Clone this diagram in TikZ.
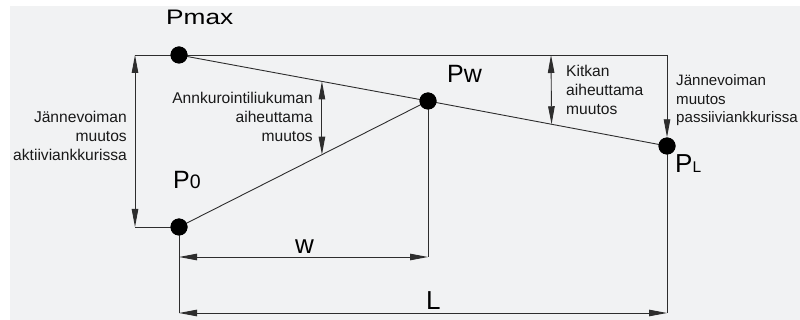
\documentclass[tikz,border=0pt]{standalone}
\usepackage{fontspec}
\setmainfont{Liberation Sans}
\usetikzlibrary{arrows.meta,calc}
\definecolor{bg}{RGB}{241,242,243}
\definecolor{ln}{RGB}{45,45,45}
\definecolor{tx}{RGB}{25,25,25}
\tikzset{
  dot/.style={circle,fill=black,inner sep=0pt,minimum size=17pt},
  thin line/.style={draw=ln,line width=0.9pt},
  dimarrow/.style={draw=ln,line width=0.9pt,{Triangle[length=18pt,width=6.5pt]}-{Triangle[length=18pt,width=6.5pt]}},
  onearrow/.style={draw=ln,line width=0.9pt,-{Triangle[length=18pt,width=6.5pt]}},
  body/.style={text=tx,inner sep=0pt,font=\fontsize{15.6}{19}\selectfont},
  biglabel/.style={text=black,inner sep=0pt,anchor=base west}
}
\begin{document}
\begin{tikzpicture}[x=1pt,y=-1pt]
\useasboundingbox (0,0) rectangle (800,320);
\fill[white] (0,0) rectangle (800,320);
\fill[bg] (10,6) rectangle (800,320);

% points
\node[dot] (pmax) at (179,55) {};
\node[dot] (p0) at (179,227) {};
\node[dot] (pw) at (428,101) {};
\node[dot] (pl) at (667,146) {};

% helper coordinates
\coordinate (tl) at (135,55);
\coordinate (tr) at (667,55);
\coordinate (bl) at (135,227);
\coordinate (k1) at (551,55);
\coordinate (wl) at (179,257);
\coordinate (wr) at (428,257);
\coordinate (ll) at (179,313);
\coordinate (lr) at (667,313);
\coordinate (a1) at ($(pmax.center)!0.574!(pw.center)$);
\coordinate (a2) at ($(p0.center)!0.574!(pw.center)$);
\coordinate (k2) at ($(pw.center)!0.517!(pl.center)$);

% lines
\draw[thin line] (tl) -- (tr);
\draw[thin line] (bl) -- (p0.center);
\draw[thin line] (pmax.center) -- (pw.center) -- (pl.center);
\draw[thin line] (p0.center) -- (pw.center);
\draw[thin line] (p0.center) -- (ll);
\draw[thin line] (pw.center) -- (wr);
\draw[thin line] (pl.center) -- (lr);

% dimension arrows
\draw[dimarrow] (tl) -- (bl);
\draw[dimarrow] (a1) -- (a2);
\draw[dimarrow] (k1) -- (k2);
\draw[onearrow] (tr) -- (pl.north);
\draw[dimarrow] (wl) -- (wr);
\draw[dimarrow] (ll) -- (lr);

% redraw dots on top
\node[dot] at (pmax) {};
\node[dot] at (p0) {};
\node[dot] at (pw) {};
\node[dot] at (pl) {};

% point labels
\node[biglabel,font=\fontsize{21}{21}\selectfont] (lpmax) at (166,25) {\scalebox{1.25}[1]{Pmax}};
\node[biglabel,font=\fontsize{25}{25}\selectfont] (lpw) at (447,83) {Pw};
\node[biglabel,font=\fontsize{25}{25}\selectfont] (lp0) at (173,189) {P{\fontsize{19.5}{19.5}\selectfont 0}};
\node[biglabel,font=\fontsize{26}{26}\selectfont] (lpl) at (675,173) {P{\fontsize{15.5}{15.5}\selectfont L}};
\node[biglabel,font=\fontsize{26}{26}\selectfont] (lw) at (295,254) {w};
\node[biglabel,font=\fontsize{26}{26}\selectfont] (lL) at (426,309) {L};

% text blocks (base anchor = baseline of last line)
\node[body,anchor=base east,align=right] (tact) at (127,161) {Jännevoiman\\muutos\\aktiiviankkurissa};
\node[body,anchor=base east,align=right] (tanc) at (313,142) {Annkurointiliukuman\\aiheuttama\\muutos};
\node[body,anchor=base west,align=left] (tkit) at (566,115) {Kitkan\\aiheuttama\\muutos};
\node[body,anchor=base west,align=left,font=\fontsize{15.1}{18.5}\selectfont] (tpas) at (676,123) {Jännevoiman\\muutos\\passiiviankkurissa};
\end{tikzpicture}
\end{document}
